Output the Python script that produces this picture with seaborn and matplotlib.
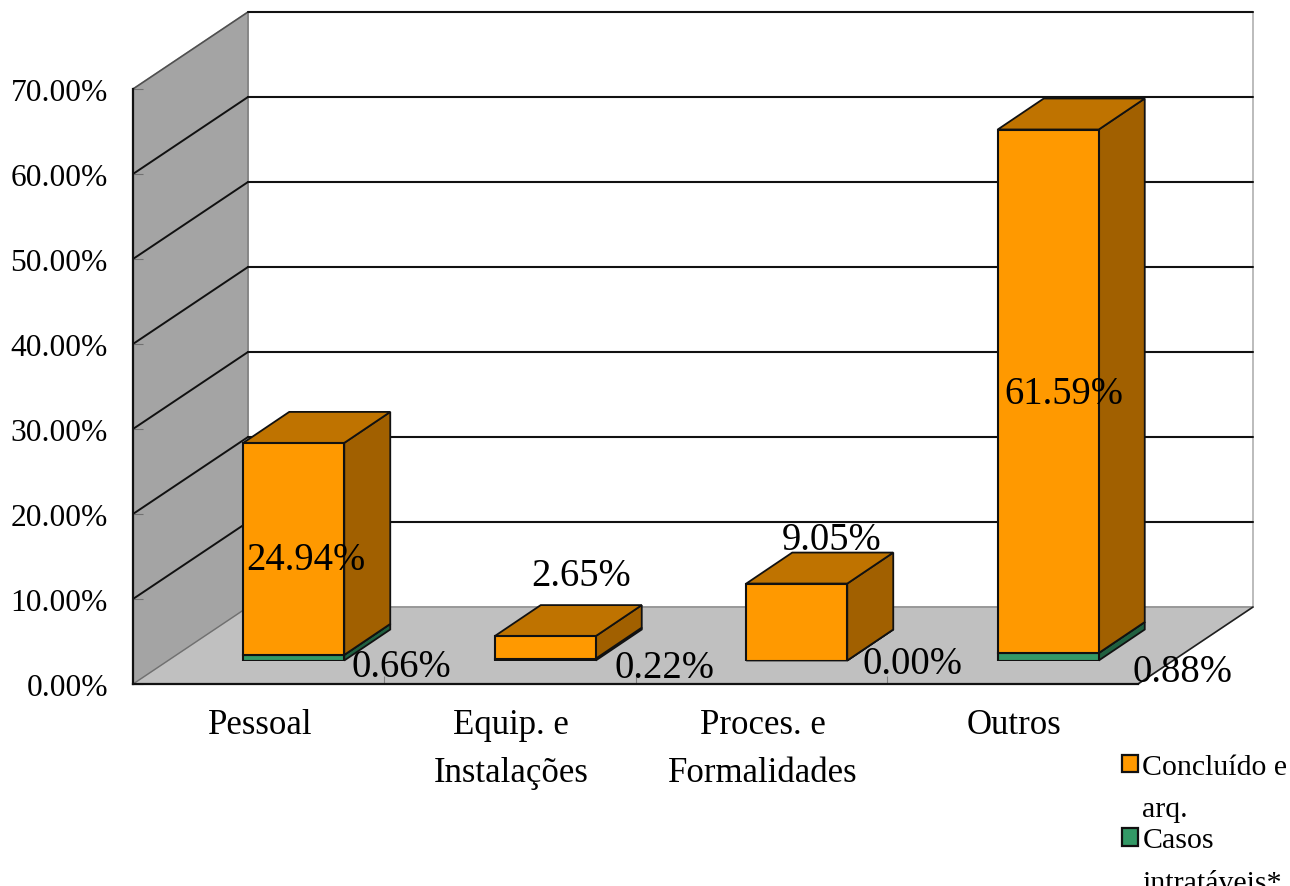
import matplotlib
matplotlib.use('agg')
import matplotlib.pyplot as plt
from matplotlib.patches import Patch
import seaborn as sns

categories = ['Pessoal', 'Equip. e\nInstalações', 'Proces. e\nFormalidades', 'Outros']
concluido = [24.94, 2.65, 9.05, 61.59]
casos = [0.66, 0.22, 0.00, 0.88]
y_ticks = [0, 10, 20, 30, 40, 50, 60, 70]
legend_labels = ['Concluído e\narq.', 'Casos\nintratáveis*']

W, H = 1290, 887

# where the value labels sit relative to the bar tops, in pixels
concluido_offsets = [(12.5, -117), (36, 61), (34.5, 44), (15.5, -264)]
casos_offsets = [(107.5, -12), (119, -9), (115.5, -3), (134.5, -18.5)]


def axes_from_pixels(fig, left, top, right, bottom):
    return fig.add_axes([left / W, 1 - bottom / H, (right - left) / W, (bottom - top) / H])


def shade(color, factor):
    rgb = matplotlib.colors.to_rgb(color)
    return tuple(c * factor for c in rgb)


def draw_walls(ax):
    # wall depth in data units of the front axes
    dx = 115 / (1005 / 4)
    dy = 77 / 8.5
    x0, x1 = -0.5, 3.5
    ax.fill([x0 + dx, x1 + dx, x1 + dx, x0 + dx], [dy, dy, 70 + dy, 70 + dy], color='white',
            zorder=0, clip_on=False)
    ax.fill([x0, x1, x1 + dx, x0 + dx], [0, 0, dy, dy], color='#c0c0c0', zorder=0.1, clip_on=False)
    ax.fill([x0, x0 + dx, x0 + dx, x0], [0, dy, 70 + dy, 70], color='#a4a4a4', zorder=0.1, clip_on=False)
    ax.plot([x0 + dx, x1 + dx], [dy, dy], color='#909090', lw=1.2, zorder=0.2, clip_on=False)
    ax.plot([x0 + dx, x0 + dx], [dy, 70 + dy], color='#808080', lw=1.2, zorder=0.2, clip_on=False)
    ax.plot([x1 + dx, x1 + dx], [dy, 70 + dy], color='#b0b0b0', lw=1.2, zorder=0.2, clip_on=False)
    ax.plot([x0, x0 + dx], [0, dy], color='#707070', lw=1, zorder=0.2, clip_on=False)
    ax.plot([x1, x1 + dx], [0, dy], color='#202020', lw=1.2, zorder=0.2, clip_on=False)
    ax.plot([x0, x0 + dx], [70, 70 + dy], color='#505050', lw=1.2, zorder=0.2, clip_on=False)
    for v in y_ticks[1:]:
        ax.plot([x0 + dx, x1 + dx], [v + dy, v + dy], color='#111111', lw=1.5,
                zorder=0.3, clip_on=False)
        if v < 70:
            ax.plot([x0, x0 + dx], [v, v + dy], color='#111111', lw=1.4, zorder=0.3, clip_on=False)


def draw_depth(ax):
    # side and top faces for every bar seaborn drew
    dx = 46 / 251.5
    dy = 31 / 8.5
    for k, patch in enumerate(ax.patches):
        x, y = patch.get_x(), patch.get_y()
        w, h = patch.get_width(), patch.get_height()
        color = patch.get_facecolor()
        r = x + w
        t = y + h
        ax.fill([r, r + dx, r + dx, r], [y, y + dy, t + dy, t], facecolor=shade(color, 0.63),
                edgecolor='#111111', lw=1.3, zorder=0.9, clip_on=False)
        ax.fill([x, r, r + dx, x + dx], [t, t, t + dy, t + dy], facecolor=shade(color, 0.75),
                edgecolor='#111111', lw=1.3, zorder=0.9, clip_on=False)


if __name__ == '__main__':
    sns.set_style('white')
    plt.rcParams['font.family'] = ['Liberation Serif', 'DejaVu Serif']
    plt.rcParams['text.color'] = 'black'
    plt.rcParams['xtick.labelcolor'] = 'black'
    plt.rcParams['ytick.labelcolor'] = 'black'

    fig = plt.figure(figsize=(W / 100, H / 100), dpi=100)

    front = axes_from_pixels(fig, 133, 90, 1138, 685)
    front.set_xlim(-0.5, 3.5)
    front.set_ylim(0, 70)
    front.patch.set_visible(False)
    draw_walls(front)
    for side in ['top', 'right']:
        front.spines[side].set_visible(False)
    for side in ['left', 'bottom']:
        front.spines[side].set_linewidth(1.6)
        front.spines[side].set_color('#111111')
    front.set_yticks(y_ticks)
    front.set_yticklabels(['%.2f%%' % v for v in y_ticks], fontsize=22.7)
    front.tick_params(axis='y', direction='in', length=7, width=0.8, color='#707070', pad=18, left=True)
    front.set_xticks([0.5, 1.5, 2.5])
    front.set_xticklabels([])
    front.tick_params(axis='x', which='major', direction='in', length=6, width=0.8, color='#808080', bottom=True)
    front.set_xticks([i + 0.006 for i in range(4)], minor=True)
    front.set_xticklabels(categories, minor=True, fontsize=25, linespacing=1.63)
    front.tick_params(axis='x', which='minor', length=0, pad=17)

    ax = axes_from_pixels(fig, 168, 66.5, 1174, 661.5)
    ax.patch.set_visible(False)
    sns.barplot(x=categories, y=casos, color='#339966', saturation=1, width=101 / 251.5,
                edgecolor='#111111', linewidth=1.5, errorbar=None, ax=ax)
    sns.barplot(x=categories, y=concluido, bottom=casos, color='#ff9900', saturation=1, width=101 / 251.5,
                edgecolor='#111111', linewidth=1.5, errorbar=None, ax=ax)
    ax.set_xlim(-0.5, 3.5)
    ax.set_ylim(0, 70)
    ax.axis('off')
    draw_depth(ax)

    for i in range(len(categories)):
        ax.annotate('%.2f%%' % concluido[i], (i, casos[i] + concluido[i]), xytext=concluido_offsets[i],
                    textcoords='offset pixels', ha='center', va='center', fontsize=27.8, annotation_clip=False)
        ax.annotate('%.2f%%' % casos[i], (i, casos[i]), xytext=casos_offsets[i],
                    textcoords='offset pixels', ha='center', va='center', fontsize=27.8, annotation_clip=False)

    handles = [Patch(facecolor='#ff9900', edgecolor='#111111', lw=1.6),
               Patch(facecolor='#339966', edgecolor='#111111', lw=1.6)]
    leg = fig.legend(handles, legend_labels, loc='upper left', bbox_to_anchor=(1122 / W, 1 - 755 / H),
                     frameon=False, fontsize=21.5, handlelength=0.53, handleheight=0.53,
                     handletextpad=0.15, labelspacing=0.17, borderpad=0, borderaxespad=0)
    for t in leg.get_texts():
        t.set_linespacing(1.82)
    # handles line up with the first line of each label
    for h in leg.legend_handles:
        h.set_y(h.get_y() + 17.5)

    fig.savefig('out.png', dpi=100)
